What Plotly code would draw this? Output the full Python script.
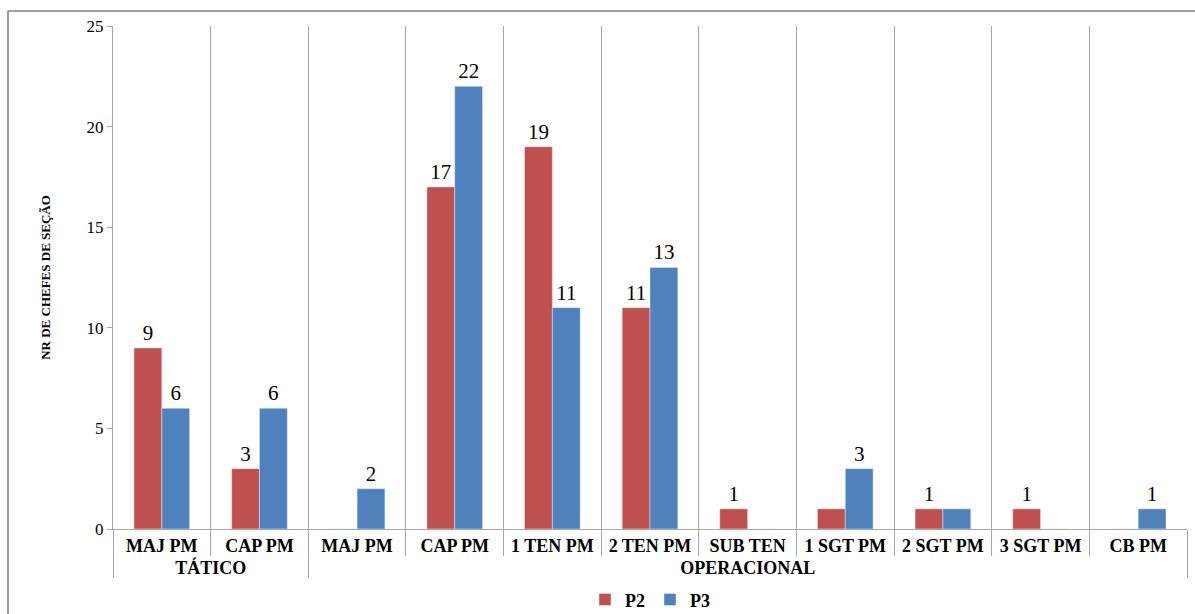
import plotly.graph_objects as go

# Hierarchical categories: level group and rank
groups = ["TÁTICO", "TÁTICO"] + ["OPERACIONAL"] * 9
ranks = ["MAJ PM", "CAP PM", "MAJ PM", "CAP PM", "1 TEN PM", "2 TEN PM",
         "SUB TEN", "1 SGT PM", "2 SGT PM", "3 SGT PM", "CB PM"]

p2 = [9, 3, 0, 17, 19, 11, 1, 1, 1, 1, 0]
p3 = [6, 6, 2, 22, 11, 13, 0, 3, 1, 0, 1]

# Data labels as printed on the chart (blank where no label is shown)
p2_labels = ["9", "3", "", "17", "19", "11", "1", "", "1", "1", ""]
p3_labels = ["6", "6", "2", "22", "11", "13", "", "3", "", "", "1"]

RED = "#C0504D"
BLUE = "#4F81BD"
SERIF = "Liberation Serif"
GRID = "#A6A6A6"

fig = go.Figure()
fig.add_trace(go.Bar(
    name="P2", x=[groups, ranks], y=p2, marker_color=RED,
    text=p2_labels, textposition="outside", cliponaxis=False,
    textfont=dict(family=SERIF, size=21, color="#000000"),
))
fig.add_trace(go.Bar(
    name="P3", x=[groups, ranks], y=p3, marker_color=BLUE,
    text=p3_labels, textposition="outside", cliponaxis=False,
    textfont=dict(family=SERIF, size=21, color="#000000"),
))

fig.update_layout(
    width=1195, height=614,
    margin=dict(l=113, r=8, t=26, b=85, autoexpand=False),
    paper_bgcolor="white", plot_bgcolor="white",
    barmode="group", bargap=0.43, bargroupgap=0,
    font=dict(family=SERIF, color="#000000"),
    showlegend=True,
    legend=dict(orientation="h", x=0.5, xanchor="center", y=-0.104, yanchor="top",
                font=dict(family=SERIF, size=18, color="#000000", weight="bold"),
                itemwidth=30, traceorder="normal"),
)

fig.update_xaxes(
    type="multicategory", automargin=False,
    showline=True, linecolor=GRID, linewidth=1,
    showgrid=True, gridcolor=GRID, gridwidth=1,
    tickson="boundaries", ticks="outside", ticklen=26, tickcolor=GRID,
    tickfont=dict(family=SERIF, size=18, color="#000000", weight="bold"),
    showdividers=True, dividercolor=GRID, dividerwidth=1,
)
fig.update_yaxes(
    range=[0, 25], dtick=5, automargin=False,
    showline=True, linecolor=GRID, linewidth=1,
    showgrid=False, zeroline=False,
    ticks="outside", ticklen=5, tickcolor=GRID,
    tickfont=dict(family=SERIF, size=17, color="#000000"),
    title=dict(text="NR DE CHEFES DE SEÇÃO", standoff=33,
               font=dict(family=SERIF, size=13, color="#000000", weight="bold")),
)

# Outer chart frame
fig.add_shape(type="rect", xref="paper", yref="paper",
              x0=(8 - 113) / 1074, x1=(1200 - 113) / 1074,
              y0=(503 - 620) / 503, y1=(503 + 15) / 503,
              line=dict(color="#808080", width=1.5), layer="below")

fig.write_html("out.html")
